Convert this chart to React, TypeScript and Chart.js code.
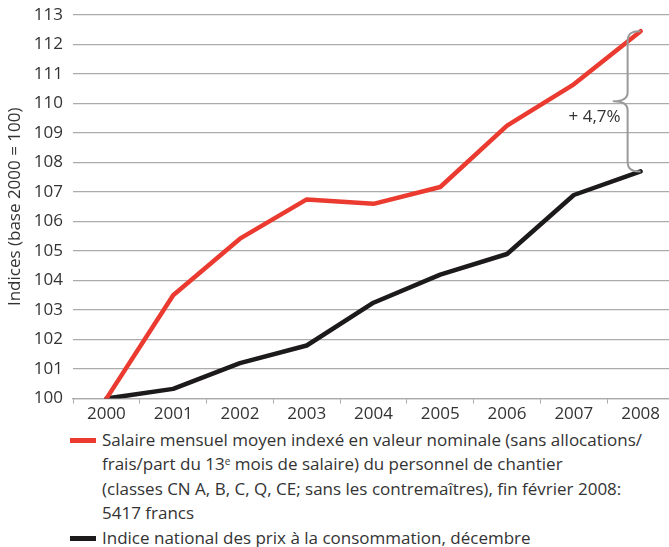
import React, { useEffect, useRef } from "react";
import { Chart, registerables } from "chart.js";

Chart.register(...registerables);

const years = ["2000", "2001", "2002", "2003", "2004", "2005", "2006", "2007", "2008"];
const salaryIndex = [100, 103.5, 105.42, 106.75, 106.6, 107.17, 109.25, 110.65, 112.45];
const cpiIndex = [100, 100.33, 101.2, 101.8, 103.25, 104.2, 104.9, 106.9, 107.7];
const yMin = 100;
const yMax = 113;
const diffLabel = "+ 4,7%";
const yTitle = "Indices (base 2000 = 100)";

const RED = "#eb3b30";
const BLACK = "#1c1a1a";
const GRID = "#ababab";
const TEXT = "#333333";
const FONT = "'Open Sans', 'Noto Sans', sans-serif";
const FS = 17;

const bracePlugin = {
  id: "brace",
  afterDatasetsDraw(chart: any) {
    const { ctx, scales } = chart;
    const x = scales.x;
    const y = scales.y;
    const last = years.length - 1;
    const xs = x.getPixelForValue(last);
    const yTop = y.getPixelForValue(salaryIndex[last]);
    const yBot = y.getPixelForValue(cpiIndex[last]);
    const yMid = (yTop + yBot) / 2;
    const spine = xs - 13;
    const tip = xs - 27;
    ctx.save();
    ctx.strokeStyle = "#9a9a9a";
    ctx.lineWidth = 2;
    ctx.lineJoin = "round";
    ctx.beginPath();
    ctx.moveTo(xs, yTop);
    ctx.quadraticCurveTo(spine, yTop - 1, spine, yTop + 10);
    ctx.lineTo(spine, yMid - 9);
    ctx.quadraticCurveTo(spine, yMid, tip, yMid);
    ctx.quadraticCurveTo(spine, yMid, spine, yMid + 9);
    ctx.lineTo(spine, yBot - 10);
    ctx.quadraticCurveTo(spine, yBot + 1, xs, yBot);
    ctx.stroke();
    ctx.fillStyle = TEXT;
    ctx.font = `${FS}px ${FONT}`;
    ctx.textAlign = "right";
    ctx.textBaseline = "middle";
    ctx.fillText(diffLabel, tip + 7, yMid + 16);
    ctx.restore();
  },
};

function ChartCanvas() {
  const ref = useRef<HTMLCanvasElement | null>(null);
  useEffect(() => {
    if (!ref.current) return;
    const chart = new Chart(ref.current, {
      type: "line",
      data: {
        labels: years,
        datasets: [
          {
            label: "Salaire",
            data: salaryIndex,
            borderColor: RED,
            backgroundColor: RED,
            borderWidth: 4.5,
            pointRadius: 0,
            tension: 0,
            borderJoinStyle: "round",
            borderCapStyle: "round",
          },
          {
            label: "Indice",
            data: cpiIndex,
            borderColor: BLACK,
            backgroundColor: BLACK,
            borderWidth: 4.5,
            pointRadius: 0,
            tension: 0,
            borderJoinStyle: "round",
            borderCapStyle: "round",
          },
        ],
      },
      options: {
        responsive: false,
        animation: false,
        layout: { padding: { top: 15, right: 0, bottom: 0, left: 0 } },
        plugins: { legend: { display: false }, tooltip: { enabled: false } },
        scales: {
          x: {
            type: "category",
            offset: true,
            grid: {
              display: true,
              drawOnChartArea: false,
              drawTicks: true,
              tickLength: 5,
              color: GRID,
              offset: true,
            },
            border: { display: true, color: GRID, width: 1.2 },
            ticks: {
              color: TEXT,
              font: { family: FONT, size: FS },
              padding: 0,
              maxRotation: 0,
              autoSkip: false,
            },
          },
          y: {
            min: yMin,
            max: yMax,
            afterFit(scale: any) {
              scale.width = 73;
              scale.paddingTop = 0;
              scale.paddingBottom = 0;
            },
            grid: { color: GRID, lineWidth: 1.2, drawTicks: false },
            border: { display: false },
            ticks: {
              stepSize: 1,
              color: TEXT,
              font: { family: FONT, size: FS },
              padding: 10,
            },
            title: {
              display: true,
              text: yTitle,
              color: TEXT,
              font: { family: FONT, size: FS },
              padding: { top: 5, bottom: 0 },
            },
          },
        },
      },
      plugins: [bracePlugin],
    } as any);
    return () => chart.destroy();
  }, []);
  return (
    <canvas
      ref={ref}
      width={674}
      height={424}
      style={{ position: "absolute", left: 0, top: 0, width: 674, height: 424 }}
    />
  );
}

const legendLineStyle = (color: string, top: number): React.CSSProperties => ({
  position: "absolute",
  left: 70,
  top,
  width: 26,
  height: 5,
  background: color,
});

export default function App() {
  const textStyle: React.CSSProperties = {
    position: "absolute",
    left: 102,
    fontFamily: FONT,
    fontSize: FS,
    lineHeight: "24.4px",
    color: TEXT,
    whiteSpace: "nowrap",
  };
  return (
    <div
      style={{
        position: "absolute",
        left: 0,
        top: 0,
        width: 669,
        height: 547,
        overflow: "hidden",
        background: "#ffffff",
      }}
    >
      <ChartCanvas />
      <div style={legendLineStyle(RED, 438)} />
      <div style={{ ...textStyle, top: 428 }}>
        Salaire mensuel moyen indexé en valeur nominale (sans allocations/
        <br />
        frais/part du 13
        <sup style={{ fontSize: 10, verticalAlign: "top", lineHeight: "18px" }}>e</sup> mois de salaire) du personnel de chantier
        <br />
        (classes CN A, B, C, Q, CE; sans les contremaîtres), fin février 2008:
        <br />
        5417 francs
      </div>
      <div style={legendLineStyle(BLACK, 536)} />
      <div style={{ ...textStyle, top: 525.6 }}>
        Indice national des prix à la consommation, décembre
      </div>
    </div>
  );
}
